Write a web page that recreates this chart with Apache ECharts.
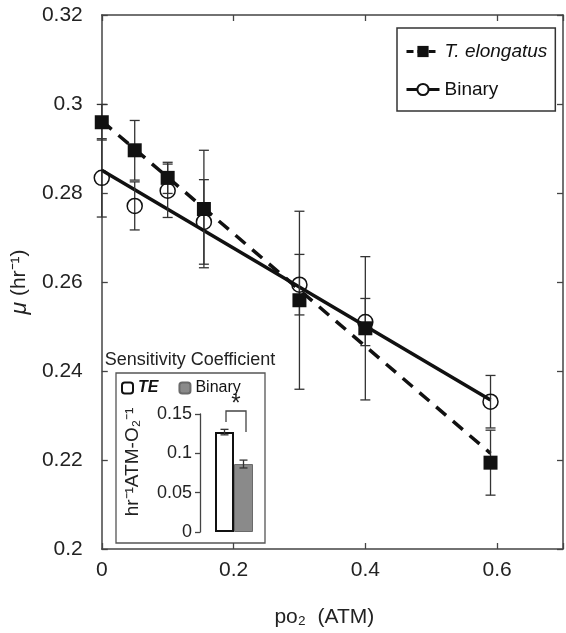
<!DOCTYPE html>
<html><head><meta charset="utf-8">
<script src="https://cdn.jsdelivr.net/npm/echarts@6/dist/echarts.min.js"></script>
<style>html,body{margin:0;padding:0;background:#fff}#c{width:566px;height:633px}</style>
</head><body><div id="c"></div>
<script>
// ---- data ----
const po2 = [0, 0.05, 0.1, 0.155, 0.3, 0.4, 0.59];
const muTE = [0.2959, 0.2896, 0.2834, 0.2764, 0.2559, 0.2496, 0.2194];
const errTE = [0.004, 0.0067, 0.0035, 0.0132, 0.020, 0.0161, 0.0073];
const muBinary = [0.2834, 0.2771, 0.2805, 0.2735, 0.2594, 0.2510, 0.2331];
const errBinary = [0.0088, 0.0054, 0.0060, 0.0095, 0.0068, 0.0053, 0.0059];
const fitTE = [[0, 0.2962], [0.59, 0.2215]];
const fitBinary = [[0, 0.2851], [0.59, 0.2335]];
const insetCats = ['TE', 'Binary'];
const insetTE = [0.127, '-'];
const insetBinary = ['-', 0.0864];
const insetErr = [0.0035, 0.005];
const insetVals = [0.127, 0.0864];

const FF = 'Liberation Sans, Arial, sans-serif';
const AX = '#444';

function errRender(capW, color) {
  return function (params, api) {
    const x = api.value(0), lo = api.value(1), hi = api.value(2);
    const p1 = api.coord([x, hi]), p2 = api.coord([x, lo]);
    const st = {stroke: color, lineWidth: 1.3};
    return {type: 'group', children: [
      {type: 'line', shape: {x1: p1[0], y1: p1[1], x2: p2[0], y2: p2[1]}, style: st},
      {type: 'line', shape: {x1: p1[0] - capW, y1: p1[1], x2: p1[0] + capW, y2: p1[1]}, style: st},
      {type: 'line', shape: {x1: p2[0] - capW, y1: p2[1], x2: p2[0] + capW, y2: p2[1]}, style: st}
    ]};
  };
}

const xAxisCommon = {
  type: 'value', min: 0, max: 0.7, interval: 0.2, gridIndex: 0,
  axisLine: {onZero: false, lineStyle: {color: AX, width: 1.5}},
  axisTick: {inside: true, length: 6, lineStyle: {color: AX, width: 1.3}},
  splitLine: {show: false}
};
const yAxisCommon = {
  type: 'value', min: 0.2, max: 0.32, interval: 0.02, gridIndex: 0,
  axisLine: {show: true, onZero: false, lineStyle: {color: AX, width: 1.5}},
  axisTick: {show: true, inside: true, length: 6, lineStyle: {color: AX, width: 1.3}},
  splitLine: {show: false}
};

const chart = echarts.init(document.getElementById('c'), null, {renderer: 'canvas'});
chart.setOption({
  animation: false,
  backgroundColor: '#fff',
  textStyle: {fontFamily: FF},
  grid: [
    {left: 99, top: 15, width: 465, height: 537},
    {left: 215, top: 414, width: 38, height: 118}
  ],
  xAxis: [
    Object.assign({}, xAxisCommon, {
      position: 'bottom',
      axisLabel: {fontSize: 21, color: '#222', margin: 11, fontFamily: FF,
        formatter: v => v > 0.65 ? '' : String(+v.toFixed(1))},
      name: 'po\u2082  (ATM)', nameLocation: 'middle', nameGap: 58,
      nameTextStyle: {fontSize: 21, color: '#222', fontFamily: FF, padding: [0, 16, 0, 0]}
    }),
    Object.assign({}, xAxisCommon, {position: 'top', axisLabel: {show: false}}),
    {type: 'category', gridIndex: 1, data: insetCats, show: false, boundaryGap: true}
  ],
  yAxis: [
    Object.assign({}, yAxisCommon, {
      position: 'left',
      axisLabel: {fontSize: 21, color: '#222', margin: 19, fontFamily: FF,
        formatter: v => String(+v.toFixed(2))},
      name: '{m|\u03bc} (hr\u207b\u00b9)', nameLocation: 'middle', nameGap: 68, nameRotate: 90,
      nameTextStyle: {fontSize: 21, color: '#222', fontFamily: FF,
        rich: {m: {fontSize: 23, fontStyle: 'italic', fontFamily: FF, color: '#222'}}}
    }),
    Object.assign({}, yAxisCommon, {position: 'right', axisLabel: {show: false}}),
    {
      type: 'value', gridIndex: 1, min: 0, max: 0.15, interval: 0.05, offset: 15,
      axisLine: {show: true, onZero: false, lineStyle: {color: AX, width: 1.3}},
      axisTick: {show: true, inside: false, length: 5, lineStyle: {color: AX, width: 1.3}},
      splitLine: {show: false},
      axisLabel: {fontSize: 18, color: '#222', margin: 8, fontFamily: FF,
        formatter: v => String(+v.toFixed(2))},
      name: 'hr\u207b\u00b9ATM-O\u2082\u207b\u00b9', nameLocation: 'middle', nameGap: 58, nameRotate: 90,
      nameTextStyle: {fontSize: 19, color: '#222', fontFamily: FF, padding: [0, 0, 0, 22]}
    }
  ],
  legend: [
    {
      data: [
        {name: 'T. elongatus', lineStyle: {type: [7, 4], width: 3, color: '#111'}},
        {name: 'Binary', lineStyle: {width: 3, color: '#111'}}
      ],
      left: 397, top: 28, orient: 'vertical', itemWidth: 33, itemHeight: 14, itemGap: 19,
      padding: [14, 8, 12, 8], borderColor: '#333', borderWidth: 1.5, borderRadius: 0,
      selectedMode: false,
      textStyle: {fontSize: 19, fontFamily: FF, color: '#111',
        rich: {i: {fontStyle: 'italic', fontSize: 19, fontFamily: FF, color: '#111'}}},
      formatter: n => n === 'T. elongatus' ? '{i|T. elongatus}' : n
    },
    {
      data: ['inset-TE', 'inset-Binary'],
      left: 121, top: 380, orient: 'horizontal', itemWidth: 11, itemHeight: 11, itemGap: 20,
      selectedMode: false, padding: 0,
      textStyle: {fontSize: 16, fontFamily: FF, color: '#111',
        rich: {i: {fontStyle: 'italic', fontWeight: 'bold', fontSize: 16, fontFamily: FF, color: '#111'}}},
      formatter: n => n === 'inset-TE' ? '{i|TE}' : 'Binary'
    }
  ],
  series: [
    {
      name: 'T. elongatus', type: 'line', xAxisIndex: 0, yAxisIndex: 0, data: fitTE,
      symbol: 'rect', showSymbol: false, silent: true, z: 2,
      lineStyle: {color: '#111', width: 3.5, type: [13, 9]}, itemStyle: {color: '#111'}
    },
    {
      name: 'Binary', type: 'line', xAxisIndex: 0, yAxisIndex: 0, data: fitBinary,
      symbol: 'emptyCircle', showSymbol: false, silent: true, z: 2,
      lineStyle: {color: '#111', width: 3.5}, itemStyle: {color: '#111'}
    },
    {
      name: 'errTE', type: 'custom', xAxisIndex: 0, yAxisIndex: 0, z: 3,
      data: po2.map((x, i) => [x, muTE[i] - errTE[i], muTE[i] + errTE[i]]),
      encode: {x: 0, y: [1, 2]}, renderItem: errRender(5, '#333'), silent: true
    },
    {
      name: 'errBinary', type: 'custom', xAxisIndex: 0, yAxisIndex: 0, z: 3,
      data: po2.map((x, i) => [x, muBinary[i] - errBinary[i], muBinary[i] + errBinary[i]]),
      encode: {x: 0, y: [1, 2]}, renderItem: errRender(5, '#333'), silent: true
    },
    {
      name: 'ptsBinary', type: 'scatter', xAxisIndex: 0, yAxisIndex: 0, z: 4,
      data: po2.map((x, i) => [x, muBinary[i]]), symbol: 'circle', symbolSize: 15,
      itemStyle: {color: 'rgba(255,255,255,0)', borderColor: '#111', borderWidth: 1.5, opacity: 1}
    },
    {
      name: 'ptsTE', type: 'scatter', xAxisIndex: 0, yAxisIndex: 0, z: 5,
      data: po2.map((x, i) => [x, muTE[i]]), symbol: 'rect', symbolSize: 14,
      itemStyle: {color: '#111', opacity: 1}
    },
    {
      name: 'inset-TE', type: 'bar', xAxisIndex: 2, yAxisIndex: 2, data: insetTE,
      barWidth: 19, barGap: '-100%',
      itemStyle: {color: '#fff', borderColor: '#111', borderWidth: 2}
    },
    {
      name: 'inset-Binary', type: 'bar', xAxisIndex: 2, yAxisIndex: 2, data: insetBinary,
      barWidth: 19, barGap: '-100%',
      itemStyle: {color: '#8a8a8a', borderColor: '#6a6a6a', borderWidth: 1}
    },
    {
      name: 'insetErr', type: 'custom', xAxisIndex: 2, yAxisIndex: 2, z: 4,
      data: insetVals.map((v, i) => [i, v - insetErr[i], v + insetErr[i]]),
      encode: {x: 0, y: [1, 2]}, renderItem: errRender(4, '#333'), silent: true
    }
  ],
  graphic: [
    {type: 'rect', shape: {x: 116, y: 373, width: 149, height: 170},
      style: {fill: 'none', stroke: '#555', lineWidth: 1.3}, silent: true},
    {type: 'text', x: 190, y: 360,
      style: {text: 'Sensitivity Coefficient', fontSize: 18, fontFamily: FF, fill: '#222',
        textAlign: 'center', textVerticalAlign: 'middle', align: 'center', verticalAlign: 'middle'}},
    {type: 'polyline', shape: {points: [[226, 422], [226, 411], [246, 411], [246, 432]]},
      style: {fill: 'none', stroke: '#444', lineWidth: 1.3}},
    {type: 'text', x: 236, y: 404,
      style: {text: '*', fontSize: 24, fontFamily: FF, fill: '#222',
        textAlign: 'center', textVerticalAlign: 'middle', align: 'center', verticalAlign: 'middle'}}
  ]
});
</script>
</body></html>
